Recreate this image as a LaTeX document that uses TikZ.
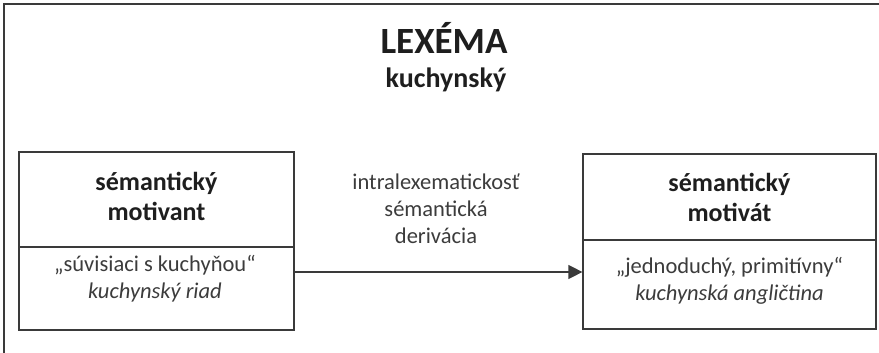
\documentclass[tikz,border=0pt]{standalone}
\usepackage{fontspec}
\setmainfont{Carlito}
\usetikzlibrary{arrows.meta}
\definecolor{linec}{HTML}{3A3A3A}
\definecolor{txtc}{HTML}{3C3C3C}
\definecolor{boldc}{HTML}{1E1E1E}
\tikzset{
  boxpart/.style={draw=linec, line width=1.2pt, rectangle, inner sep=0pt},
  titletext/.style={text=boldc, font=\bfseries\fontsize{26}{30}\selectfont, align=center, inner sep=0pt},
  bodytext/.style={text=txtc, font=\fontsize{22.5}{27}\selectfont, align=center, inner sep=0pt},
  arrowline/.style={draw=linec, line width=1.2pt, -{Triangle[length=14pt,width=14pt]}},
}
\begin{document}
\begin{tikzpicture}[x=1pt,y=-1pt]
\useasboundingbox (0,0) rectangle (879,353);
\fill[white] (0,0) rectangle (879,353);
% outer frame (cropped)
\draw[linec, line width=1.5pt] (4,353) -- (4,4) -- (879,4);
% title
\node[text=boldc, font=\bfseries\fontsize{37}{44}\selectfont, inner sep=0pt] (title) at (444,38) {LEXÉMA};
\node[text=boldc, font=\bfseries\fontsize{28}{32}\selectfont, inner sep=0pt] (lex) at (446,80) {kuchynský};
% left box
\node[boxpart, minimum width=275pt, minimum height=95pt] (ltop) at (156.5,199.5) {};
\node[boxpart, minimum width=275pt, minimum height=83pt] (lbot) at (156.5,288.5) {};
\node[titletext] (ltoptext) at (156.5,196) {sémantický\\motivant};
\node[bodytext] (lbottext) at (155,279) {„súvisiaci s kuchyňou“\\\textit{kuchynský riad}};
% right box
\node[boxpart, minimum width=293pt, minimum height=86pt] (rtop) at (729.5,197) {};
\node[boxpart, minimum width=293pt, minimum height=89pt] (rbot) at (729.5,284.5) {};
\node[titletext] (rtoptext) at (729.5,197) {sémantický\\motivát};
\node[bodytext] (rbottext) at (729.5,281) {„jednoduchý, primitívny“\\\textit{kuchynská angličtina}};
% middle label
\node[bodytext] (mid) at (436,209) {intralexematickosť\\sémantická\\derivácia};
% arrow
\coordinate (ay) at (0,272);
\draw[arrowline] (lbot.east |- ay) -- (rbot.west |- ay);
\end{tikzpicture}
\end{document}
